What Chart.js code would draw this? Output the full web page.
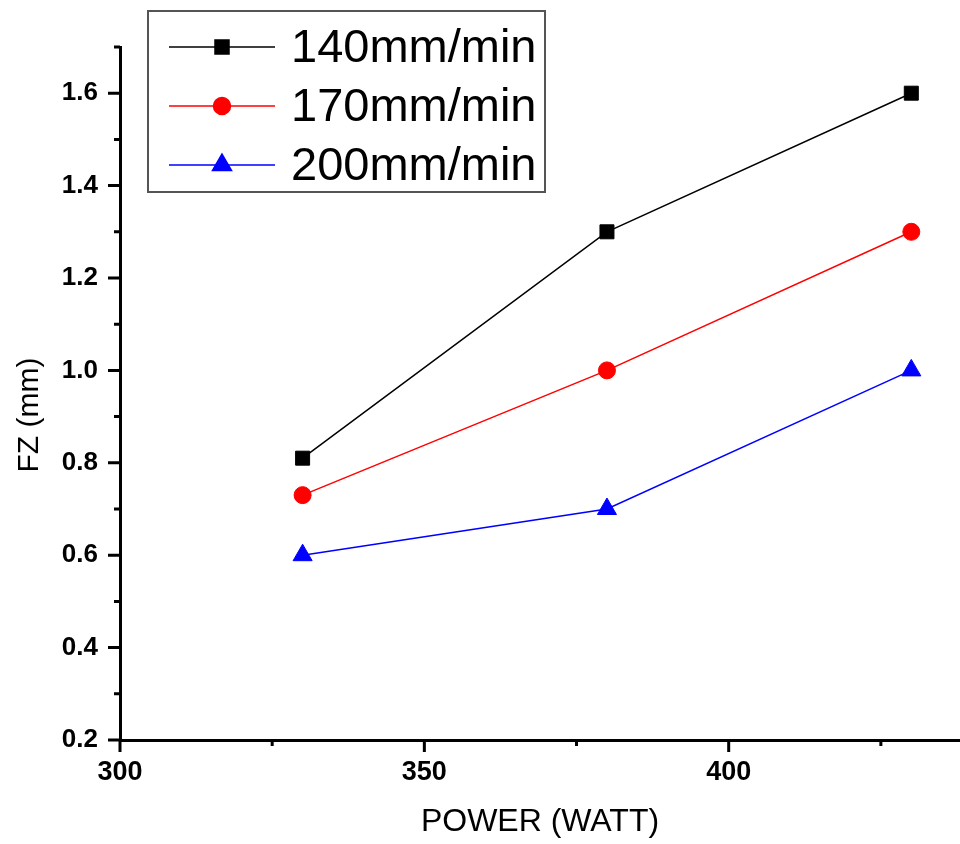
<!DOCTYPE html>
<html>
<head>
<meta charset="utf-8">
<script src="https://cdn.jsdelivr.net/npm/chart.js@4.4.1/dist/chart.umd.min.js"></script>
<style>
    html, body { margin: 0; padding: 0; background: #fff; }
    #chart { display: block; }
</style>
</head>
<body>
<canvas id="chart" width="960" height="844"></canvas>
<script>
// Data
const powerLevels = [330, 380, 430];
const seriesLabels = ['140mm/min', '170mm/min', '200mm/min'];
const fz140 = [0.81, 1.30, 1.60];
const fz170 = [0.73, 1.00, 1.30];
const fz200 = [0.60, 0.70, 1.00];

const xMajorTicks = [300, 350, 400];
const xMinorTicks = [325, 375, 425];
const yMajorTicks = [0.2, 0.4, 0.6, 0.8, 1.0, 1.2, 1.4, 1.6];
const yMinorTicks = [0.3, 0.5, 0.7, 0.9, 1.1, 1.3, 1.5, 1.7];

const FONT = "'Liberation Sans', Arial, sans-serif";

function toPoints(values) {
    return powerLevels.map((x, i) => ({ x: x, y: values[i] }));
}

const styles = [
    { color: '#000000', pointStyle: 'rect', radius: 9.9 },
    { color: '#ff0000', pointStyle: 'circle', radius: 8.5 },
    { color: '#0000ff', pointStyle: 'triangle', radius: 11 }
];

// Tick marks (major + minor) drawn on the library's scales
const tickMarks = {
    id: 'tickMarks',
    afterDraw(chart) {
        const { ctx, scales: { x, y } } = chart;
        ctx.save();
        ctx.strokeStyle = '#000';
        ctx.lineWidth = 3;
        ctx.beginPath();
        xMajorTicks.forEach(v => {
            const px = x.getPixelForValue(v);
            ctx.moveTo(px, y.bottom); ctx.lineTo(px, y.bottom + 12);
        });
        xMinorTicks.forEach(v => {
            const px = x.getPixelForValue(v);
            ctx.moveTo(px, y.bottom); ctx.lineTo(px, y.bottom + 6);
        });
        yMajorTicks.forEach(v => {
            const py = y.getPixelForValue(v);
            ctx.moveTo(x.left, py); ctx.lineTo(x.left - 12, py);
        });
        yMinorTicks.forEach(v => {
            const py = y.getPixelForValue(v);
            ctx.moveTo(x.left, py); ctx.lineTo(x.left - 6, py);
        });
        ctx.stroke();

        // y axis title, placed like the original
        ctx.translate(30, 415);
        ctx.rotate(-Math.PI / 2);
        ctx.fillStyle = '#000';
        ctx.font = '30px ' + FONT;
        ctx.textAlign = 'center';
        ctx.textBaseline = 'middle';
        ctx.fillText('FZ (mm)', 0, 0);
        ctx.restore();
    }
};

// Boxed legend in the top-left corner
const boxLegend = {
    id: 'boxLegend',
    afterDraw(chart) {
        const ctx = chart.ctx;
        ctx.save();
        ctx.fillStyle = '#fff';
        ctx.fillRect(148, 11, 397, 181);
        ctx.strokeStyle = '#555';
        ctx.lineWidth = 2;
        ctx.strokeRect(148, 11, 397, 181);
        const rows = [47, 106, 165];
        chart.data.datasets.forEach((ds, i) => {
            const yy = rows[i];
            ctx.strokeStyle = ds.borderColor;
            ctx.lineWidth = 1.5;
            ctx.beginPath();
            ctx.moveTo(169, yy); ctx.lineTo(275, yy);
            ctx.stroke();
            ctx.fillStyle = ds.pointBackgroundColor;
            ctx.strokeStyle = ds.borderColor;
            Chart.helpers.drawPoint(ctx, {
                pointStyle: ds.pointStyle,
                radius: ds.pointRadius,
                borderWidth: 1,
                rotation: 0
            }, 222, yy);
            ctx.fillStyle = '#000';
            ctx.font = '47px ' + FONT;
            ctx.textAlign = 'left';
            ctx.textBaseline = 'middle';
            ctx.fillText(ds.label, 291, yy + 2);
        });
        ctx.restore();
    }
};

const datasets = [fz140, fz170, fz200].map((vals, i) => ({
    label: seriesLabels[i],
    data: toPoints(vals),
    borderColor: styles[i].color,
    backgroundColor: styles[i].color,
    pointBackgroundColor: styles[i].color,
    pointBorderColor: styles[i].color,
    pointStyle: styles[i].pointStyle,
    pointRadius: styles[i].radius,
    pointBorderWidth: 1,
    borderWidth: 1.5,
    tension: 0,
    clip: false
}));

new Chart(document.getElementById('chart'), {
    type: 'line',
    data: { datasets: datasets },
    options: {
        responsive: false,
        animation: false,
        events: [],
        layout: { autoPadding: false, padding: { top: 47, right: 0, left: 0, bottom: 0 } },
        plugins: {
            legend: { display: false },
            tooltip: { enabled: false }
        },
        scales: {
            x: {
                type: 'linear',
                min: 300,
                max: 438,
                afterBuildTicks: axis => { axis.ticks = xMajorTicks.map(v => ({ value: v })); },
                afterFit: axis => { axis.height = 104; },
                grid: { display: false, drawTicks: false },
                border: { display: true, color: '#000', width: 3 },
                ticks: {
                    color: '#000',
                    padding: 16,
                    font: { family: FONT, size: 27, weight: 'bold' }
                },
                title: {
                    display: true,
                    text: 'POWER (WATT)',
                    color: '#000',
                    padding: { top: 0, bottom: 3 },
                    font: { family: FONT, size: 32 }
                }
            },
            y: {
                type: 'linear',
                min: 0.2,
                max: 1.7,
                afterBuildTicks: axis => { axis.ticks = yMajorTicks.map(v => ({ value: v })); },
                afterFit: axis => { axis.width = 120; },
                grid: { display: false, drawTicks: false },
                border: { display: true, color: '#000', width: 3 },
                ticks: {
                    color: '#000',
                    padding: 22,
                    font: { family: FONT, size: 26, weight: 'bold' },
                    callback: v => v.toFixed(1)
                }
            }
        }
    },
    plugins: [tickMarks, boxLegend]
});
</script>
</body>
</html>
